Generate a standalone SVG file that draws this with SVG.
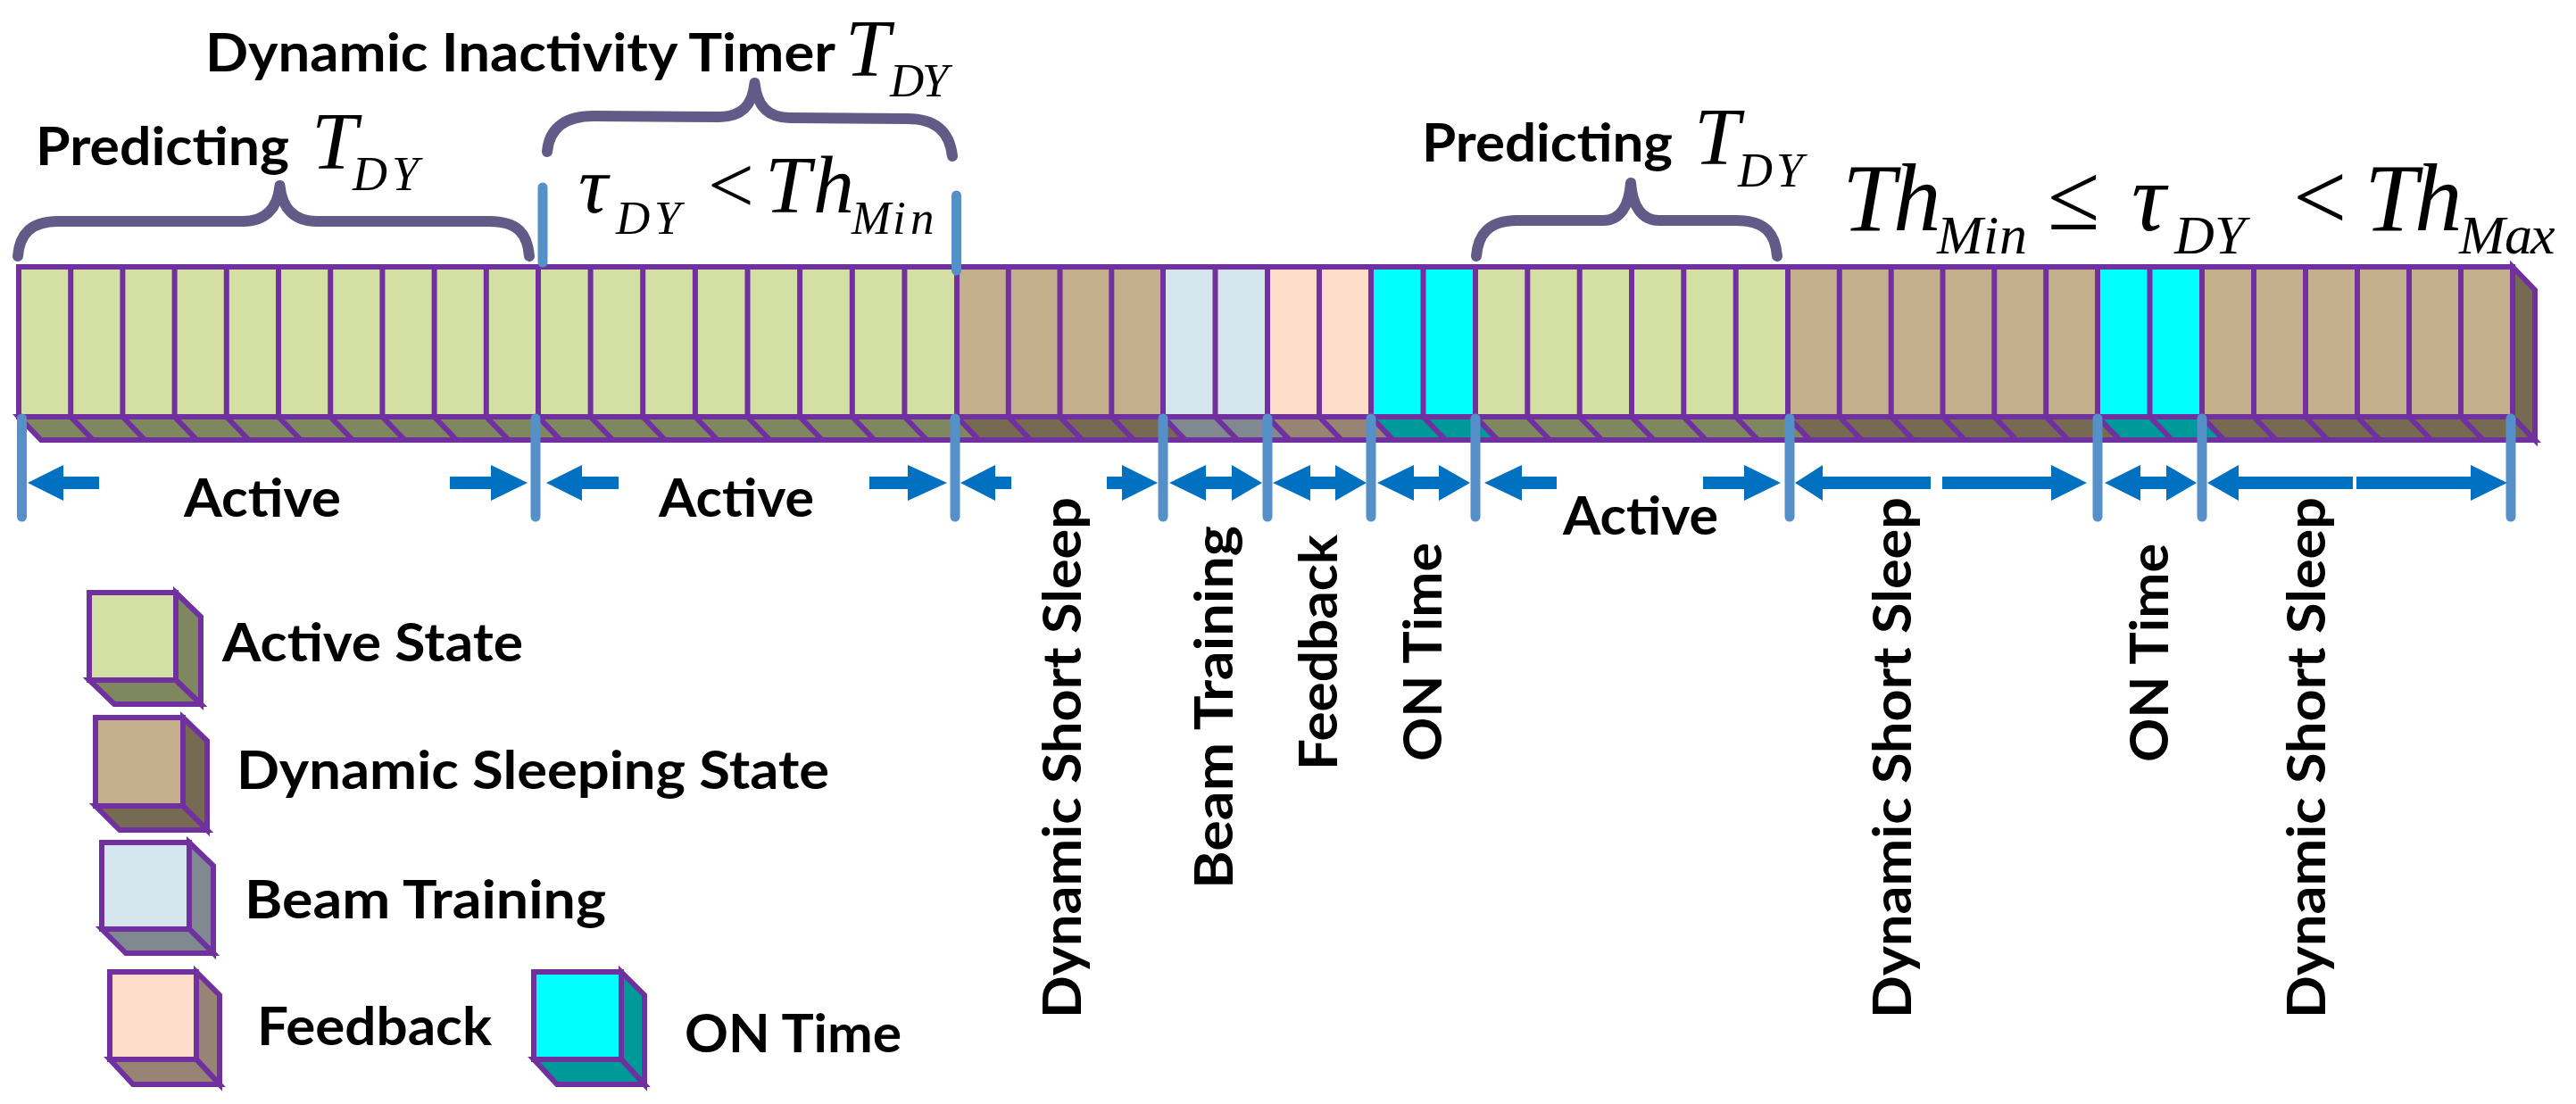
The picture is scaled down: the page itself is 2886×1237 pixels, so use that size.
<svg xmlns="http://www.w3.org/2000/svg" width="2886" height="1237" viewBox="0 0 2886 1237">
<style>
.lbl{font-family:Lato,"Open Sans","Liberation Sans",sans-serif;font-weight:700;font-size:60px;fill:#000}
.m{font-family:"Liberation Serif","Times New Roman",serif;font-style:italic;fill:#000}
.mu{font-family:"Liberation Serif","Times New Roman",serif;font-style:normal;fill:#000}
.ed{stroke:#7030A0;stroke-width:6;stroke-linejoin:miter}
.dv{stroke:#7030A0;stroke-width:6;fill:none}
.sep{stroke:#5590C8;stroke-width:11;stroke-linecap:round;fill:none}
.brace{stroke:#625A87;stroke-width:12;fill:none;stroke-linecap:round;stroke-linejoin:round}
.arr{fill:#0070C0}
.af{fill:#D3DFA3}.ab{fill:#7F8761}
.sf{fill:#C4AF8D}.sb{fill:#776A52}
.bf{fill:#D5E5ED}.bb{fill:#80898F}
.ff{fill:#FDDDC9}.fb{fill:#978475}
.of{fill:#00FFFF}.ob{fill:#009999}
</style>
<rect width="2886" height="1237" fill="#fff"/>

<!-- timeline bar segments -->
<g id="seg-active-1">
<polygon class="ab ed" points="21,467 603,467 628,493 46,493"/>
<rect class="af ed" x="21" y="299" width="582" height="168"/>
<path class="dv" d="M79.2 299V467l25 26M137.4 299V467l25 26M195.6 299V467l25 26M253.8 299V467l25 26M312 299V467l25 26M370.2 299V467l25 26M428.4 299V467l25 26M486.6 299V467l25 26M544.8 299V467l25 26"/>
</g>
<g id="seg-active-2">
<polygon class="ab ed" points="603,467 1072,467 1097,493 628,493"/>
<rect class="af ed" x="603" y="299" width="469" height="168"/>
<path class="dv" d="M661.6 299V467l25 26M720.2 299V467l25 26M778.9 299V467l25 26M837.5 299V467l25 26M896.1 299V467l25 26M954.8 299V467l25 26M1013.4 299V467l25 26"/>
</g>
<g id="seg-sleep-1">
<polygon class="sb ed" points="1072,467 1303,467 1328,493 1097,493"/>
<rect class="sf ed" x="1072" y="299" width="231" height="168"/>
<path class="dv" d="M1129.8 299V467l25 26M1187.5 299V467l25 26M1245.3 299V467l25 26"/>
</g>
<g id="seg-beam">
<polygon class="bb ed" points="1303,467 1420,467 1445,493 1328,493"/>
<rect class="bf ed" x="1303" y="299" width="117" height="168"/>
<path class="dv" d="M1361.5 299V467l25 26"/>
</g>
<g id="seg-feedback">
<polygon class="fb ed" points="1420,467 1536,467 1561,493 1445,493"/>
<rect class="ff ed" x="1420" y="299" width="116" height="168"/>
<path class="dv" d="M1478 299V467l25 26"/>
</g>
<g id="seg-on-1">
<polygon class="ob ed" points="1536,467 1653,467 1678,493 1561,493"/>
<rect class="of ed" x="1536" y="299" width="117" height="168"/>
<path class="dv" d="M1594.5 299V467l25 26"/>
</g>
<g id="seg-active-3">
<polygon class="ab ed" points="1653,467 2003,467 2028,493 1678,493"/>
<rect class="af ed" x="1653" y="299" width="350" height="168"/>
<path class="dv" d="M1711.3 299V467l25 26M1769.7 299V467l25 26M1828 299V467l25 26M1886.3 299V467l25 26M1944.7 299V467l25 26"/>
</g>
<g id="seg-sleep-2">
<polygon class="sb ed" points="2003,467 2350,467 2375,493 2028,493"/>
<rect class="sf ed" x="2003" y="299" width="347" height="168"/>
<path class="dv" d="M2060.8 299V467l25 26M2118.7 299V467l25 26M2176.5 299V467l25 26M2234.3 299V467l25 26M2292.2 299V467l25 26"/>
</g>
<g id="seg-on-2">
<polygon class="ob ed" points="2350,467 2467,467 2492,493 2375,493"/>
<rect class="of ed" x="2350" y="299" width="117" height="168"/>
<path class="dv" d="M2408.5 299V467l25 26"/>
</g>
<g id="seg-sleep-3">
<polygon class="sb ed" points="2467,467 2815,467 2840,493 2492,493"/>
<polygon class="sb ed" points="2815,299 2840,325 2840,493 2815,467"/>
<rect class="sf ed" x="2467" y="299" width="348" height="168"/>
<path class="dv" d="M2525 299V467l25 26M2583 299V467l25 26M2641 299V467l25 26M2699 299V467l25 26M2757 299V467l25 26"/>
</g>

<!-- connectors: separators, braces, span arrows -->
<g id="connectors">
<path class="sep" d="M24.5 469V579M600 469V579M1070 469V579M1303 469V579M1420 469V579M1536 469V579M1653 469V579M2005 469V579M2350 469V579M2467 469V579M2813 469V579M608 210V294M1071.5 219V303"/>
<path class="brace" d="M20 287C22 262 35 248 65 248L272 248C297 248 311 234 313.5 208C316 234 330 248 355 248L548 248C580 248 591 262 593 287"/>
<path class="brace" d="M613 170C615 146 630 130 665 130L806 131C831 131 843 118 845.5 93C848 118 860 132 885 132L1016 133C1050 133 1064 149 1067 175"/>
<path class="brace" d="M1654 287C1656 262 1668 247 1700 247L1796 247C1815 247 1825 231 1827 205C1829 231 1839 247 1859 247L1945 247C1978 247 1989 262 1991 287"/>
<polygon class="arr" points="31,541 71,521 71,534 111,534 111,548 71,548 71,561"/>
<polygon class="arr" points="504,534 550,534 550,521 591,541 550,561 550,548 504,548"/>
<polygon class="arr" points="612,541 652,521 652,534 693,534 693,548 652,548 652,561"/>
<polygon class="arr" points="974,534 1017,534 1017,521 1061,541 1017,561 1017,548 974,548"/>
<polygon class="arr" points="1076,541 1115,521 1115,534 1133,534 1133,548 1115,548 1115,561"/>
<polygon class="arr" points="1240,534 1257,534 1257,521 1297,541 1257,561 1257,548 1240,548"/>
<polygon class="arr" points="1310,541 1351,521 1351,534 1380,534 1380,521 1414,541 1380,561 1380,548 1351,548 1351,561"/>
<polygon class="arr" points="1426,541 1468,521 1468,534 1496,534 1496,521 1531,541 1496,561 1496,548 1468,548 1468,561"/>
<polygon class="arr" points="1543,541 1584,521 1584,534 1612,534 1612,521 1647,541 1612,561 1612,548 1584,548 1584,561"/>
<polygon class="arr" points="1663,541 1705,521 1705,534 1744,534 1744,548 1705,548 1705,561"/>
<polygon class="arr" points="1908,534 1954,534 1954,521 1995,541 1954,561 1954,548 1908,548"/>
<polygon class="arr" points="2011,541 2042,521 2042,534 2163,534 2163,548 2042,548 2042,561"/>
<polygon class="arr" points="2176,534 2298,534 2298,521 2338,541 2298,561 2298,548 2176,548"/>
<polygon class="arr" points="2358,541 2398,521 2398,534 2427,534 2427,521 2461,541 2427,561 2427,548 2398,548 2398,561"/>
<polygon class="arr" points="2473,541 2508,521 2508,534 2636,534 2636,548 2508,548 2508,561"/>
<polygon class="arr" points="2640,534 2768,534 2768,521 2809,541 2768,561 2768,548 2640,548"/>
</g>

<!-- top annotations -->
<g id="label-predicting-1">
<text class="lbl" x="40" y="185" textLength="284" lengthAdjust="spacingAndGlyphs">Predicting</text>
<text class="m" x="349" y="188.5" font-size="92">T</text>
<text class="m" x="395 439" y="212.5" font-size="54">DY</text>
</g>
<g id="label-inactivity-timer">
<text class="lbl" x="230" y="80" textLength="706" lengthAdjust="spacingAndGlyphs">Dynamic Inactivity Timer</text>
<text class="m" x="947" y="84.5" font-size="90">T</text>
<text class="m" x="997 1033" y="108" font-size="53">DY</text>
</g>
<g id="label-tau-lt-thmin">
<text class="m" x="648" y="238" font-size="92">τ</text>
<text class="m" x="690 733" y="262" font-size="53">DY</text>
<text class="mu" x="793" y="238" font-size="92">&lt;</text>
<text class="m" x="857 911" y="238" font-size="92">Th</text>
<text class="m" x="954 1000 1020" y="262" font-size="53">Min</text>
</g>
<g id="label-predicting-2">
<text class="lbl" x="1593" y="181" textLength="281" lengthAdjust="spacingAndGlyphs">Predicting</text>
<text class="m" x="1898" y="184" font-size="92">T</text>
<text class="m" x="1947 1990" y="209" font-size="54">DY</text>
</g>
<g id="label-thmin-tau-thmax">
<text class="m" x="2064 2121" y="257.5" font-size="107">Th</text>
<text class="m" x="2170 2222 2240" y="284" font-size="62">Min</text>
<text class="mu" x="2294" y="257" font-size="107">≤</text>
<text class="m" x="2388" y="258" font-size="107">τ</text>
<text class="m" x="2436 2481" y="284" font-size="62">DY</text>
<text class="mu" x="2569" y="257" font-size="107">&lt;</text>
<text class="m" x="2649 2705" y="258" font-size="107">Th</text>
<text class="m" x="2755 2806 2835" y="284" font-size="62">Max</text>
</g>

<!-- span labels -->
<g id="span-labels">
<text class="lbl" x="206" y="579" textLength="176" lengthAdjust="spacingAndGlyphs">Active</text>
<text class="lbl" x="738" y="579" textLength="174" lengthAdjust="spacingAndGlyphs">Active</text>
<text class="lbl" x="1751" y="599" textLength="174" lengthAdjust="spacingAndGlyphs">Active</text>
<text class="lbl" transform="translate(1211,1141) rotate(-90)" textLength="584" lengthAdjust="spacingAndGlyphs">Dynamic Short Sleep</text>
<text class="lbl" transform="translate(1381,996) rotate(-90)" textLength="407" lengthAdjust="spacingAndGlyphs">Beam Training</text>
<text class="lbl" transform="translate(1498,863) rotate(-90)" textLength="264" lengthAdjust="spacingAndGlyphs">Feedback</text>
<text class="lbl" transform="translate(1615,853) rotate(-90)" textLength="245" lengthAdjust="spacingAndGlyphs">ON Time</text>
<text class="lbl" transform="translate(2141,1141) rotate(-90)" textLength="584" lengthAdjust="spacingAndGlyphs">Dynamic Short Sleep</text>
<text class="lbl" transform="translate(2429,854) rotate(-90)" textLength="245" lengthAdjust="spacingAndGlyphs">ON Time</text>
<text class="lbl" transform="translate(2605,1141) rotate(-90)" textLength="584" lengthAdjust="spacingAndGlyphs">Dynamic Short Sleep</text>
</g>

<!-- legend -->
<g id="legend-active">
<polygon class="ab ed" points="197,664 225,691 225,789 197,762"/>
<polygon class="ab ed" points="100,762 197,762 225,789 128,789"/>
<rect class="af ed" x="100" y="664" width="97" height="98"/>
<text class="lbl" x="249" y="741" textLength="337" lengthAdjust="spacingAndGlyphs">Active State</text>
</g>
<g id="legend-sleep">
<polygon class="sb ed" points="205,804 232,830 232,930 205,903"/>
<polygon class="sb ed" points="107,903 205,903 232,930 134,930"/>
<rect class="sf ed" x="107" y="804" width="98" height="99"/>
<text class="lbl" x="265" y="884" textLength="664" lengthAdjust="spacingAndGlyphs">Dynamic Sleeping State</text>
</g>
<g id="legend-beam">
<polygon class="bb ed" points="212,944 239,970 239,1068 212,1041"/>
<polygon class="bb ed" points="114,1041 212,1041 239,1068 141,1068"/>
<rect class="bf ed" x="114" y="944" width="98" height="97"/>
<text class="lbl" x="274" y="1029" textLength="405" lengthAdjust="spacingAndGlyphs">Beam Training</text>
</g>
<g id="legend-feedback">
<polygon class="fb ed" points="220,1089 246,1115 246,1215 220,1187"/>
<polygon class="fb ed" points="123,1187 220,1187 246,1215 149,1215"/>
<rect class="ff ed" x="123" y="1089" width="97" height="98"/>
<text class="lbl" x="288" y="1171" textLength="263" lengthAdjust="spacingAndGlyphs">Feedback</text>
</g>
<g id="legend-on">
<polygon class="ob ed" points="696,1089 722,1115 722,1215 696,1187"/>
<polygon class="ob ed" points="598,1187 696,1187 722,1215 624,1215"/>
<rect class="of ed" x="598" y="1089" width="98" height="98"/>
<text class="lbl" x="767" y="1179" textLength="243" lengthAdjust="spacingAndGlyphs">ON Time</text>
</g>
</svg>
